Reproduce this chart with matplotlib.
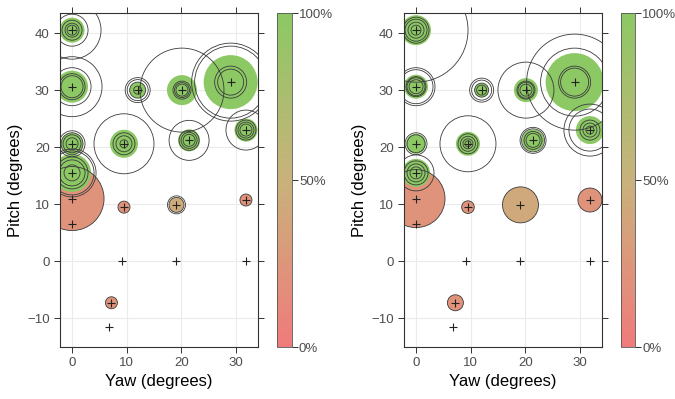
import numpy as np
import matplotlib
matplotlib.use('Agg')
import matplotlib.pyplot as plt
from matplotlib.colors import LinearSegmentedColormap, Normalize

plt.rcParams['font.family'] = ['Liberation Sans', 'DejaVu Sans']

# データ点の位置
yaw = [0, 0, 12, 20.1, 29, 9.5, 0, 21.4, 31.8, 0, 0, 0, 9.5, 19.1, 31.8, 9.2, 19.1, 31.8, 7.2, 6.8]
pitch = [40.5, 30.6, 30, 30, 31.4, 20.6, 20.6, 21.2, 23.0, 15.5, 11, 6.5, 9.5, 9.9, 10.75, 0, 0, 0, -7.25, -11.5]

# 左パネル: 塗りの値(%)と半径(px)、外周リング半径(px)
left_pct = [100, 100, 100, 100, 100, 100, 100, 100, 100, 100, 22, np.nan, 22, 44, 22,
            np.nan, np.nan, np.nan, 22, np.nan]
left_fill = [12.5, 16, 8, 15, 27, 14, 11, 11, 11.5, 19, 32, 0, 6, 7.5, 6, 0, 0, 0, 6, 0]
left_rings = [[5, 7, 10, 16, 29], [11, 13, 19, 30], [4, 8, 10.5, 12.5], [6, 7.5, 9, 42],
              [13, 16, 36, 39], [4, 8, 11, 30], [6, 9, 11, 13], [6, 8, 10, 20],
              [6, 8, 10, 20], [8, 13, 16, 22, 24], [32], [], [6], [7.5, 9], [6],
              [], [], [], [6], []]

# 右パネル
right_pct = [100, 100, 100, 100, 100, 100, 100, 100, 100, 100, 22, np.nan, 22, 42, 22,
             np.nan, np.nan, np.nan, 22, np.nan]
right_fill = [15, 12, 7, 12, 29, 12, 10, 11, 14, 14, 29, 0, 6.3, 18, 12, 0, 0, 0, 8, 0]
right_rings = [[5, 8, 11, 13, 52], [7, 9, 10, 17, 19], [5, 7, 10, 12], [6, 8, 9, 28],
               [14, 16, 34, 48], [3, 5, 7.5, 10, 28], [9, 11], [7, 9, 11.5, 13],
               [4, 7, 10, 21, 26], [6, 9, 12, 18], [29], [], [6.3], [18], [12],
               [], [], [], [8], []]

cmap = LinearSegmentedColormap.from_list('rg', ['#f07b7b', '#c9b27b', '#8cc864'])
norm = Normalize(0, 100)

DPI = 100
def px2s(r):
    # 半径(px) -> scatter の面積(pt^2)
    return (2 * np.asarray(r, dtype=float) * 72.0 / DPI) ** 2

fig = plt.figure(figsize=(6.75, 3.99), dpi=DPI)

panels = [
    ([0.0889, 0.1303, 0.2933, 0.837], [0.4104, 0.1303, 0.0222, 0.837], left_pct, left_fill, left_rings),
    ([0.5985, 0.1303, 0.2933, 0.837], [0.9200, 0.1303, 0.0210, 0.837], right_pct, right_fill, right_rings),
]

for rect, crect, pct, fill, rings in panels:
    ax = fig.add_axes(rect)
    ax.set_xlim(-2.2, 34)
    ax.set_ylim(-15, 43.5)
    ax.grid(True, color='#ebebeb', lw=0.8)
    ax.set_axisbelow(True)

    x = np.array(yaw)
    y = np.array(pitch)
    p = np.array(pct, dtype=float)
    f = np.array(fill, dtype=float)
    order = np.argsort(-f)
    order = [i for i in order if f[i] > 0]
    ax.scatter(x[order], y[order], s=px2s(f[order]), c=cmap(norm(p[order])),
               edgecolors='none', zorder=2)

    rx, ry, rr = [], [], []
    for i, rl in enumerate(rings):
        for r in rl:
            rx.append(yaw[i]); ry.append(pitch[i]); rr.append(r)
    ax.scatter(rx, ry, s=px2s(rr), facecolors='none', edgecolors='#3a3a3a',
               linewidths=0.6, zorder=3)

    ax.plot(yaw, pitch, '+', color='#222222', ms=6, mew=0.8, zorder=4)

    ax.set_xticks([0, 10, 20, 30])
    ax.set_yticks([-10, 0, 10, 20, 30, 40])
    ax.tick_params(direction='out', length=4, width=0.7, color='#333333',
                   labelcolor='#4d4d4d', labelsize=9.5, top=True, right=True)
    for sp in ax.spines.values():
        sp.set_color('#333333')
        sp.set_linewidth(0.8)
    ax.set_xlabel('Yaw (degrees)', fontsize=12, labelpad=3)
    ax.set_ylabel('Pitch (degrees)', fontsize=12, labelpad=3)

    cax = fig.add_axes(crect)
    sm = plt.cm.ScalarMappable(norm=norm, cmap=cmap)
    cb = fig.colorbar(sm, cax=cax, ticks=[0, 50, 100])
    cb.set_ticklabels(['0%', '50%', '100%'])
    cb.outline.set_edgecolor('#555555')
    cb.outline.set_linewidth(0.6)
    cax.tick_params(length=4, width=0.7, color='#333333', labelcolor='#4d4d4d',
                    labelsize=9.5, pad=1)

fig.savefig('out.png', dpi=DPI)
